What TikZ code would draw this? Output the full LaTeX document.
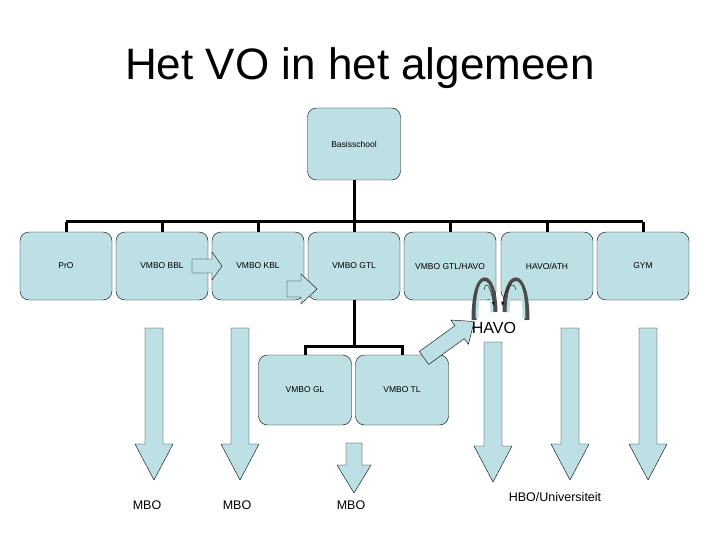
\documentclass[tikz,border=0pt]{standalone}
\usepackage{fontspec}
\setmainfont{Liberation Sans}
\definecolor{boxc}{RGB}{189,224,228}
\tikzset{
 box/.style={draw=black,fill=boxc,rounded corners=9pt,minimum width=92pt,minimum height=68pt,inner sep=0pt,font=\fontsize{8.5}{10}\selectfont},
 bus/.style={line width=3pt},
 lab/.style={font=\fontsize{12.5}{14}\selectfont}
}
% #1 x, #2 y, #3 angle, #4 length, #5 shaft half width, #6 head half width, #7 head length
\newcommand\blkarrow[7]{%
 \begin{scope}[shift={(#1,#2)},rotate=#3]
 \draw[fill=boxc] (0,-#5) -- ({#4-#7},-#5) -- ({#4-#7},-#6) -- (#4,0) -- ({#4-#7},#6) -- ({#4-#7},#5) -- (0,#5) -- cycle;
 \end{scope}}
\begin{document}
\begin{tikzpicture}[x=1pt,y=-1pt]
\useasboundingbox (0,0) rectangle (720,540);
\node[font=\fontsize{44}{50}\selectfont] (title) at (360,68) {Het VO in het algemeen};
\node[box,minimum height=72pt,minimum width=93pt] (bs) at (354,144) {Basisschool};
\node[box] (pro) at (66,266) {PrO};
\node[box] (bbl) at (162,266) {VMBO BBL};
\node[box] (kbl) at (258,266) {VMBO KBL};
\node[box] (gtl) at (354,266) {VMBO GTL};
\node[box] (gh) at (450,266) {VMBO GTL/HAVO};
\node[box] (ath) at (547,266) {HAVO/ATH};
\node[box] (gym) at (643,266) {GYM};
\draw[bus] (bs.south) -- (354,222);
\draw[bus] (66,222) -- (643,222);
\foreach \n in {pro,bbl,kbl,gtl,gh,ath,gym} \draw[bus] (\n.north|-0,222) -- (\n.north);
\node[box,minimum width=93pt,minimum height=70pt] (gl) at (305,390) {VMBO GL};
\node[box,minimum width=93pt,minimum height=70pt] (tl) at (402,390) {VMBO TL};
\draw[bus] (gtl.south) -- (354,346);
\draw[bus] (305,355) -- (305,346) -- (402,346) -- (402,355);
% horizontal arrows
\blkarrow{192}{266}{0}{30}{7}{14}{10}
\blkarrow{287}{289}{0}{30}{8}{15}{16}
% down arrows
\blkarrow{154}{328}{-90}{152}{9}{19}{36}
\blkarrow{240}{328}{-90}{152}{9}{19}{36}
\blkarrow{354}{443}{-90}{50}{8}{17}{28}
\blkarrow{493}{342}{-90}{140}{9}{19}{36}
\blkarrow{570}{328}{-90}{152}{9}{19}{36}
\blkarrow{648}{328}{-90}{152}{9}{19}{36}
\node[lab] (m1) at (147,505) {MBO};
\node[lab] (m2) at (237,505) {MBO};
\node[lab] (m3) at (351,505) {MBO};
\node[lab] (hbo) at (555,497) {HBO/Universiteit};
% HAVO
\blkarrow{424}{358}{36}{62}{8}{15}{18}
% curved arrows
\draw[line width=5pt,gray!60!black] (474,320) .. controls (474,268) and (494,268) .. (495,312);
\draw[line width=5pt,gray!60!black] (505,312) .. controls (506,268) and (527,268) .. (527,320);
\draw[line width=3pt,boxc] (477,318) .. controls (477,272) and (491,272) .. (492,312);
\draw[line width=3pt,boxc] (508,312) .. controls (509,272) and (524,272) .. (524,318);
\draw[-latex,black,thin] (484,290) .. controls (486,280) and (490,285) .. (494,306);
\draw[-latex,black,thin] (516,290) .. controls (514,280) and (506,285) .. (502,306);
\node[font=\fontsize{16}{17}\selectfont,inner sep=0pt] (havo) at (494,328) {HAVO};
\end{tikzpicture}
\end{document}
